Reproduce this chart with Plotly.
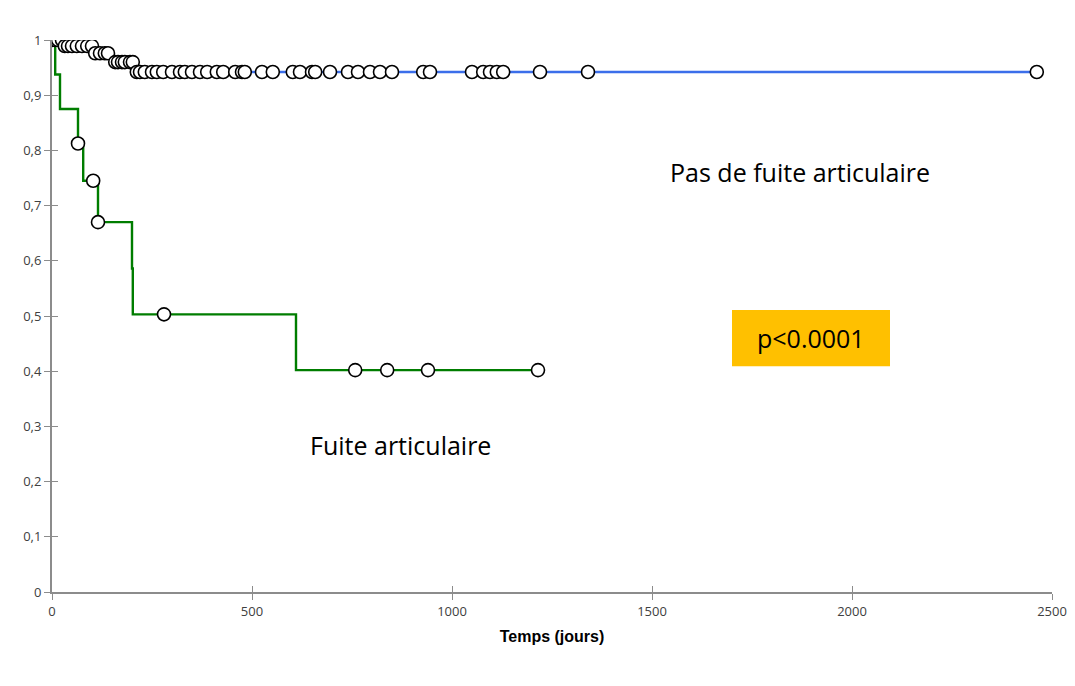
import plotly.graph_objects as go

# ---- Data ----
# Fuite articulaire (green): Kaplan-Meier step points
green_step_days = [0, 8, 20, 65, 78, 115, 200, 202, 610, 1215]
green_step_surv = [1.0, 0.9375, 0.875, 0.8125, 0.745, 0.670, 0.586, 0.503, 0.402, 0.402]
# censored observations (markers)
green_cens_days = [65, 103, 115, 280, 758, 838, 940, 1215]
green_cens_surv = [0.8125, 0.745, 0.670, 0.503, 0.402, 0.402, 0.402, 0.402]

# Pas de fuite articulaire (blue): step points
blue_step_days = [0, 28, 104, 150, 207, 2462]
blue_step_surv = [1.0, 0.989, 0.976, 0.960, 0.942, 0.942]
# censored observations (markers)
blue_cens_days = [0, 8, 15, 25,
                  32, 40, 50, 62, 75, 88, 100,
                  108, 120, 132, 140,
                  158, 165, 175, 182, 195, 202,
                  212, 220, 232, 250, 262, 278, 300, 320, 332, 350, 370, 388,
                  412, 428, 458, 475, 482, 525, 552, 602, 620, 650, 658, 695,
                  740, 765, 795, 820, 850, 928, 945, 1050, 1078, 1095, 1112,
                  1128, 1220, 1340, 2462]
blue_cens_surv = ([1.0] * 4 + [0.989] * 7 + [0.976] * 4 + [0.960] * 6
                  + [0.942] * 39)

x_ticks = [0, 500, 1000, 1500, 2000, 2500]
y_ticks = [0, 0.1, 0.2, 0.3, 0.4, 0.5, 0.6, 0.7, 0.8, 0.9, 1]
y_tick_labels = ["0", "0,1", "0,2", "0,3", "0,4", "0,5", "0,6", "0,7", "0,8", "0,9", "1"]

BLUE = "#3B6EEA"
GREEN = "#007D00"
AXIS = "#8C8C8C"

marker_style = dict(symbol="circle", size=13, color="white",
                    line=dict(color="black", width=1.6))

fig = go.Figure()
fig.add_trace(go.Scatter(x=blue_step_days, y=blue_step_surv, mode="lines",
                         line=dict(color=BLUE, width=2.4, shape="hv"),
                         showlegend=False, hoverinfo="skip"))
fig.add_trace(go.Scatter(x=green_step_days, y=green_step_surv, mode="lines",
                         line=dict(color=GREEN, width=2.4, shape="hv"),
                         showlegend=False, hoverinfo="skip"))
fig.add_trace(go.Scatter(x=blue_cens_days, y=blue_cens_surv, mode="markers",
                         marker=marker_style, showlegend=False))
fig.add_trace(go.Scatter(x=green_cens_days, y=green_cens_surv, mode="markers",
                         marker=marker_style, showlegend=False))
# empty trace so the overlay axes (inner half of the crossing ticks) are drawn
fig.add_trace(go.Scatter(x=[None], y=[None], xaxis="x2", yaxis="y2",
                         mode="markers", showlegend=False, hoverinfo="skip"))

tick_font = dict(family="Open Sans, Liberation Sans, sans-serif", size=13, color="#404040")

fig.update_layout(
    width=1059, height=670,
    margin=dict(l=44, r=15, t=32, b=86),
    paper_bgcolor="white", plot_bgcolor="white",
    xaxis=dict(range=[0, 2500], tickvals=x_ticks, ticktext=[str(v) for v in x_ticks],
               automargin=False,
               showgrid=False, zeroline=False, showline=True, linecolor=AXIS, linewidth=2,
               ticks="outside", ticklen=6, tickcolor=AXIS, tickwidth=1.3,
               tickfont=tick_font,
               title=dict(text="<b>Temps (jours)</b>",
                          font=dict(family="Liberation Sans, Arial, sans-serif", size=16, color="black"),
                          standoff=12)),
    yaxis=dict(range=[0, 1], tickvals=y_ticks, ticktext=y_tick_labels,
               automargin=False,
               showgrid=False, zeroline=False, showline=True, linecolor=AXIS, linewidth=2,
               ticks="outside", ticklen=6, tickcolor=AXIS, tickwidth=1.3,
               tickfont=tick_font),
    xaxis2=dict(overlaying="x", anchor="y", side="bottom", range=[0, 2500], automargin=False,
                tickvals=x_ticks, showticklabels=False, showgrid=False, zeroline=False,
                ticks="inside", ticklen=6, tickcolor=AXIS, tickwidth=1.3, showline=False),
    yaxis2=dict(overlaying="y", anchor="x", side="left", range=[0, 1], automargin=False,
                tickvals=y_ticks, showticklabels=False, showgrid=False, zeroline=False,
                ticks="inside", ticklen=6, tickcolor=AXIS, tickwidth=1.3, showline=False),
)

fig.add_shape(type="rect", x0=1700, x1=2095, y0=0.409, y1=0.511,
              fillcolor="#FFC000", line=dict(width=0), layer="below")

ann_font = dict(family="Open Sans, Lato, sans-serif", size=25, color="black")
fig.add_annotation(x=1870, y=0.761, text="Pas de fuite articulaire", showarrow=False, font=ann_font)
fig.add_annotation(x=872, y=0.266, text="Fuite articulaire", showarrow=False, font=ann_font)
fig.add_annotation(x=1897, y=0.46, text="p<0.0001", showarrow=False, font=ann_font)

fig.write_html("out.html")
